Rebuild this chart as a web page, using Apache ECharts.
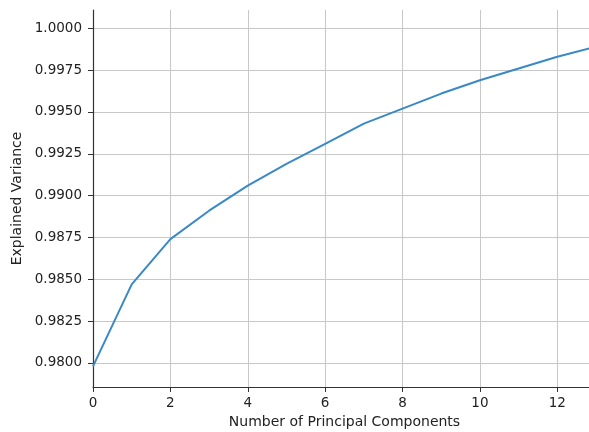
<!DOCTYPE html>
<html>
<head>
<meta charset="utf-8">
<script src="https://cdn.jsdelivr.net/npm/echarts@6/dist/echarts.min.js"></script>
<style>html,body{margin:0;padding:0;background:#fff}#c{width:589px;height:432px}</style>
</head>
<body>
<div id="c"></div>
<script>
var components = [0, 1, 2, 3, 4, 5, 6, 7, 8, 9, 10, 11, 12, 13];
var explainedVariance = [0.9798, 0.9847, 0.9874, 0.9891, 0.9906, 0.9919, 0.9931, 0.9943, 0.9952, 0.9961, 0.9969, 0.9976, 0.9983, 0.9989];
var yTicks = [0.9800, 0.9825, 0.9850, 0.9875, 0.9900, 0.9925, 0.9950, 0.9975, 1.0000];
var xTicks = [0, 2, 4, 6, 8, 10, 12];

var font = 'DejaVu Sans';
var chart = echarts.init(document.getElementById('c'));
chart.setOption({
  animation: false,
  backgroundColor: '#fff',
  grid: { left: 93, right: -7, top: 10, bottom: 45, containLabel: false, outerBoundsMode: 'none' },
  xAxis: {
    type: 'value', min: 0, max: 13, interval: 2,
    name: 'Number of Principal Components', nameLocation: 'middle', nameGap: 27,
    nameTextStyle: { fontFamily: font, fontSize: 14, color: '#222' },
    axisLine: { lineStyle: { color: '#333', width: 1.2 } },
    axisTick: { show: true, length: 5, lineStyle: { color: '#333' }, customValues: xTicks },
    axisLabel: { fontFamily: font, fontSize: 13.5, color: '#222', margin: 9, customValues: xTicks },
    splitLine: { show: true, lineStyle: { color: '#c8c8c8', width: 1 } }
  },
  yAxis: {
    type: 'value', min: 0.978565, max: 1.001094,
    name: 'Explained Variance', nameLocation: 'middle', nameGap: 68,
    nameTextStyle: { fontFamily: font, fontSize: 14, color: '#222' },
    axisLine: { show: true, lineStyle: { color: '#333', width: 1.2 } },
    axisTick: { show: true, length: 5, lineStyle: { color: '#333' }, customValues: yTicks },
    axisLabel: { fontFamily: font, fontSize: 13.5, color: '#222', margin: 11, customValues: yTicks,
      formatter: function (v) { return v.toFixed(4); } },
    splitLine: { show: true, lineStyle: { color: '#c8c8c8', width: 1 } }
  },
  series: [{
    type: 'line',
    data: components.map(function (x, i) { return [x, explainedVariance[i]]; }),
    showSymbol: false,
    lineStyle: { color: '#3a89c6', width: 2 },
    clip: true
  }]
});
</script>
</body>
</html>
